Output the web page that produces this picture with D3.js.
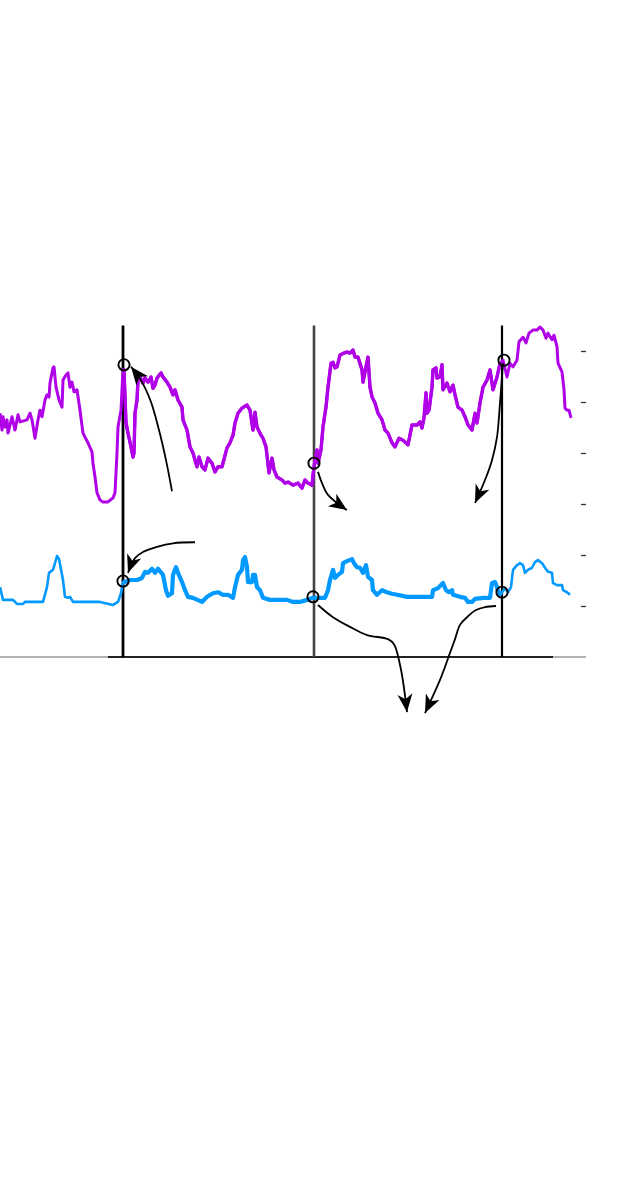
<!DOCTYPE html>
<html><head><meta charset="utf-8">
<script src="https://cdn.jsdelivr.net/npm/d3@7"></script>
<style>html,body{margin:0;padding:0;background:#fff;}svg{display:block;}</style>
</head><body>
<svg id="chart" width="640" height="1188"></svg>
<script>
// ---- data (x in time units, y in value units) ----
const purpleX = [0,2,3,5,7,8,12,15,18,20,27,30,32,35,38,40,42,45,47,49,50,53,54,56,59,62,63,66,68,70,72,74,77,80,83,85,88,92,93,95,97,100,103,108,113,115,117,118,121,123,124,126,128,131,133,134,135,137,138,140,143,145,148,151,153,155,157,161,163,167,170,173,175,178,182,183,187,190,193,195,197,199,202,205,208,212,215,218,222,227,230,233,235,238,242,247,250,253,255,257,261,263,266,269,272,274,277,282,285,288,293,298,302,305,308,312,313,315,317,318,321,323,326,328,331,333,335,337,340,344,347,350,353,355,358,362,363,366,368,370,372,375,378,382,385,388,392,395,399,403,408,412,417,420,422,424,426,427,429,432,433,436,437,440,442,443,447,450,453,455,458,462,465,468,472,475,477,480,483,487,490,493,497,500,503,507,510,513,517,519,523,526,529,533,537,540,543,546,548,552,554,557,558,562,564,565,567,569,571];
const purpleY = [47.8,44.5,47.1,45.1,46.5,43.9,47.1,44.5,47.5,46.1,46.5,47.8,46.5,42.9,46.5,48.4,47.1,50.4,51.4,51.0,53.7,56.7,56.9,52.9,50.4,49.0,54.3,55.3,55.7,52.9,53.9,52.0,52.4,48.4,43.9,43.1,42.0,40.2,38.0,35.3,32.2,30.8,30.4,30.4,31.2,32.2,40.0,45.1,48.4,56.3,56.3,45.9,43.9,41.2,39.2,40.0,47.8,50.4,54.3,54.9,53.7,54.7,53.9,54.9,52.7,53.3,54.7,55.7,54.9,53.9,52.9,51.4,52.4,50.4,49.0,46.5,44.5,41.2,40.0,38.6,37.3,39.2,37.3,36.7,39.0,38.0,36.3,37.3,37.3,41.0,42.0,43.5,45.9,47.8,48.8,49.4,48.4,44.5,48.0,45.1,43.5,42.9,41.2,36.1,39.0,36.7,35.3,34.7,34.1,34.3,33.7,34.1,33.1,34.7,34.1,33.7,35.7,38.6,40.6,38.0,40.6,45.1,49.0,52.9,57.6,57.8,56.7,56.9,59.2,59.6,59.8,59.6,60.2,58.8,58.8,56.3,53.9,56.9,58.8,52.9,51.0,49.8,47.8,46.5,44.5,43.9,42.0,41.2,42.9,42.5,41.6,45.5,45.5,46.1,44.9,46.9,51.8,47.8,48.4,52.9,56.3,56.7,54.7,54.9,57.3,52.4,53.7,52.0,53.3,51.4,49.0,48.4,47.1,45.5,44.5,47.8,45.9,49.8,52.9,54.3,56.3,52.4,54.9,57.6,58.2,54.9,57.6,56.9,58.2,61.8,62.7,61.6,63.5,64.1,64.1,64.7,64.1,62.5,63.5,62.2,63.1,60.8,57.6,55.9,52.4,48.8,48.4,48.4,46.9];

const blueX = [0,3,13,17,23,25,43,47,49,53,55,57,59,63,65,68,70,73,87,100,113,118,121,123,125,130,137,142,145,148,152,155,158,163,166,168,172,173,176,178,182,185,188,193,202,207,213,218,223,228,233,235,238,242,243,245,247,248,252,253,255,257,260,263,270,280,287,293,300,307,313,318,325,328,330,333,335,338,342,343,347,352,354,357,360,363,366,368,372,373,377,382,387,392,397,407,420,432,433,438,443,446,449,452,453,460,465,468,472,475,483,490,492,495,497,499,502,505,508,511,513,517,520,523,525,528,532,535,538,542,545,548,552,553,557,562,563,567,570];
const blueY = [13.7,11.2,11.2,10.4,10.4,10.8,10.8,13.7,16.5,17.1,18.4,19.8,19.2,15.1,11.8,11.6,11.8,10.8,10.8,10.8,10.2,10.8,12.5,14.7,14.7,15.1,15.1,15.5,16.7,16.5,17.3,16.5,17.3,16.1,13.1,12.0,12.5,16.1,17.6,16.5,14.7,13.1,11.8,11.6,10.8,11.8,12.5,12.7,12.2,12.2,11.6,13.7,16.1,17.1,19.0,19.6,17.6,14.7,14.7,16.1,16.1,13.7,13.1,11.6,11.2,11.2,11.2,10.8,10.8,11.2,11.6,11.6,11.6,13.1,15.1,17.1,15.5,16.1,16.7,18.4,18.8,19.2,18.4,17.6,17.5,16.5,18.0,15.7,15.1,13.1,12.2,13.1,12.7,12.4,12.2,11.8,11.8,11.8,13.1,13.5,14.5,13.1,12.7,13.1,12.2,11.8,11.6,10.8,10.8,11.4,11.6,11.6,14.5,14.7,13.7,12.2,12.7,13.5,12.7,13.7,17.1,18.0,18.4,18.0,16.5,17.1,17.5,18.6,19.0,18.4,17.5,16.7,16.5,14.5,14.1,14.1,13.1,12.7,12.2];

const eventX = [123, 314, 502];
const purpleMarks = [57.3, 38.0, 58.2];
const blueMarks = [14.9, 11.8, 12.7];
const tickValues = [10, 20, 30, 40, 50, 60];

const arrows = [
  [[172,32.5],[166,38.6],[159,44.5],[151,50.0],[142,53.9],[131,56.9]],
  [[195,22.5],[173,22.3],[157,21.6],[143,20.6],[135,19.4],[128,16.5]],
  [[318,36.3],[322,34.1],[328,31.8],[347,28.8]],
  [[503,57.6],[500,49.8],[497,43.1],[492,38.6],[485,34.7],[475,30.2]],
  [[318,10.2],[333,7.8],[350,5.9],[367,4.3],[388,3.5],[394,2.5],[401,-2.5],[407,-10.8]],
  [[496,10.0],[485,9.8],[476,9.2],[467,7.8],[460,6.3],[455,3.5],[450,0.8],[440,-4.5],[425,-11.0]]
];

// ---- drawing ----
const svg = d3.select("#chart");
const x = d3.scaleLinear().domain([0, 586]).range([0, 586]);
const y = d3.scaleLinear().domain([0, 60]).range([657, 351]);

const defs = svg.append("defs");
defs.append("marker").attr("id","head").attr("markerUnits","userSpaceOnUse")
  .attr("viewBox","-20 -10 22 20").attr("refX",0).attr("refY",0)
  .attr("markerWidth",22).attr("markerHeight",20).attr("orient","auto")
  .append("path").attr("d","M0,0 L-18,-7.5 L-13,0 L-18,7.5 Z").attr("fill","#000");

// baseline
svg.append("line").attr("x1", x(0)).attr("x2", x(586)).attr("y1", y(0)).attr("y2", y(0))
  .attr("stroke", "#999").attr("stroke-width", 1.6);
svg.append("line").attr("x1", x(108)).attr("x2", x(553)).attr("y1", y(0)).attr("y2", y(0))
  .attr("stroke", "#222").attr("stroke-width", 2);

// right ticks
const yAxis = d3.axisLeft(y).tickValues(tickValues).tickSize(5).tickFormat("");
const ga = svg.append("g").attr("transform", `translate(${x(586)},0)`).call(yAxis);
ga.select(".domain").remove();
ga.selectAll(".tick line").attr("stroke", "#333").attr("stroke-width", 1.3);

// event lines
const evColors = ["#000", "#444", "#000"];
const evWidths = [2.8, 2.6, 2.2];
svg.selectAll("line.ev").data(eventX).join("line").attr("class","ev")
  .attr("x1", d => x(d)).attr("x2", d => x(d))
  .attr("y1", y(65)).attr("y2", y(0))
  .attr("stroke", (d,i) => evColors[i]).attr("stroke-width", (d,i) => evWidths[i]);

const purple = purpleX.map((d,i) => [d, purpleY[i]]);
const blue = blueX.map((d,i) => [d, blueY[i]]);
const line = d3.line().x(d => x(d[0])).y(d => y(d[1])).curve(d3.curveLinear);
const inMid = d => d[0] >= eventX[0] && d[0] <= eventX[2];

svg.append("path").datum(blue).attr("d", line).attr("fill","none")
  .attr("stroke","#0099ff").attr("stroke-width",2.6).attr("stroke-linejoin","round");
svg.append("path").datum(blue.filter(inMid)).attr("d", line).attr("fill","none")
  .attr("stroke","#0099ff").attr("stroke-width",4.2).attr("stroke-linejoin","round");

svg.append("path").datum(purple).attr("d", line).attr("fill","none")
  .attr("stroke","#b000e8").attr("stroke-width",3).attr("stroke-linejoin","round");
svg.append("path").datum(purple.filter(inMid)).attr("d", line).attr("fill","none")
  .attr("stroke","#b000e8").attr("stroke-width",3.4).attr("stroke-linejoin","round");

// markers
const purpleCx = [124, 314, 504];
svg.selectAll("circle.pm").data(purpleMarks).join("circle").attr("class","pm")
  .attr("cx", (d,i) => x(purpleCx[i])).attr("cy", d => y(d)).attr("r", 5.6)
  .attr("fill","none").attr("stroke","#000").attr("stroke-width",1.9);
const blueCx = [123, 313, 502];
svg.selectAll("circle.bm").data(blueMarks).join("circle").attr("class","bm")
  .attr("cx", (d,i) => x(blueCx[i])).attr("cy", d => y(d)).attr("r", 5.6)
  .attr("fill","none").attr("stroke","#000").attr("stroke-width",1.9);

// annotation arrows
const aline = d3.line().x(d => x(d[0])).y(d => y(d[1])).curve(d3.curveCatmullRom.alpha(0.5));
svg.selectAll("path.arrow").data(arrows).join("path").attr("class","arrow")
  .attr("d", aline).attr("fill","none").attr("stroke","#000").attr("stroke-width",1.8)
  .attr("marker-end","url(#head)");
</script>
</body></html>
